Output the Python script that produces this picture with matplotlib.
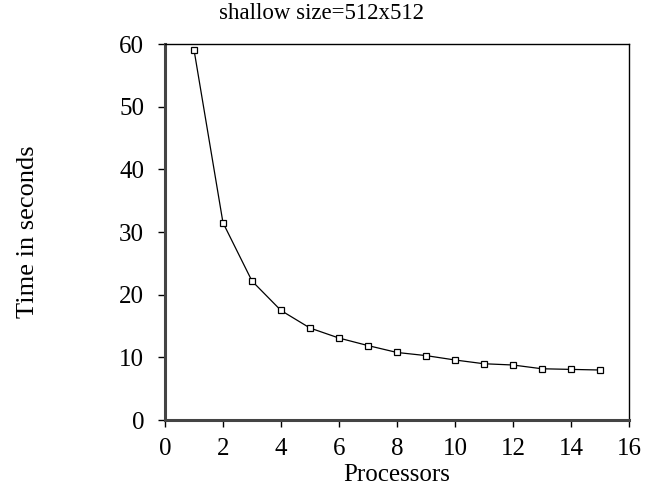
import numpy as np
import matplotlib.pyplot as plt

# data
processors = [1, 2, 3, 4, 5, 6, 7, 8, 9, 10, 11, 12, 13, 14, 15]
seconds = [59.1, 31.5, 22.2, 17.5, 14.7, 13.1, 11.9, 10.8, 10.3, 9.6, 9.0, 8.8, 8.2, 8.1, 8.0]
x_ticks = [0, 2, 4, 6, 8, 10, 12, 14, 16]
y_ticks = [0, 10, 20, 30, 40, 50, 60]

plt.rcParams['font.family'] = ['Liberation Serif', 'DejaVu Serif']

fig = plt.figure(figsize=(6.45, 4.88), dpi=100)
ax = fig.add_axes([0.2558, 0.139, 0.7192, 0.7708])

ax.plot(processors, seconds, color='black', lw=0.9, marker='s', markersize=5,
        markerfacecolor='white', markeredgecolor='black', markeredgewidth=0.9)

ax.set_xlim(0, 16)
ax.set_ylim(0, 60)
ax.set_xticks(x_ticks)
ax.set_yticks(y_ticks)
ax.tick_params(axis='both', labelsize=18, direction='out', length=5, width=1, color='black')
ax.tick_params(axis='y', pad=10)
ax.tick_params(axis='x', pad=8)

for side in ['top', 'right']:
    ax.spines[side].set_linewidth(1)
for side in ['left', 'bottom']:
    ax.spines[side].set_linewidth(2.2)
    ax.spines[side].set_color('#444444')

# title sits centred on the figure, not the axes
fig.text(0.498, 0.962, 'shallow size=512x512', fontsize=16.5, ha='center', va='baseline')
ax.set_xlabel('Processors', fontsize=18, labelpad=3)
ax.set_ylabel('Time in seconds', fontsize=19, labelpad=58)

fig.savefig('out.png', dpi=100)
